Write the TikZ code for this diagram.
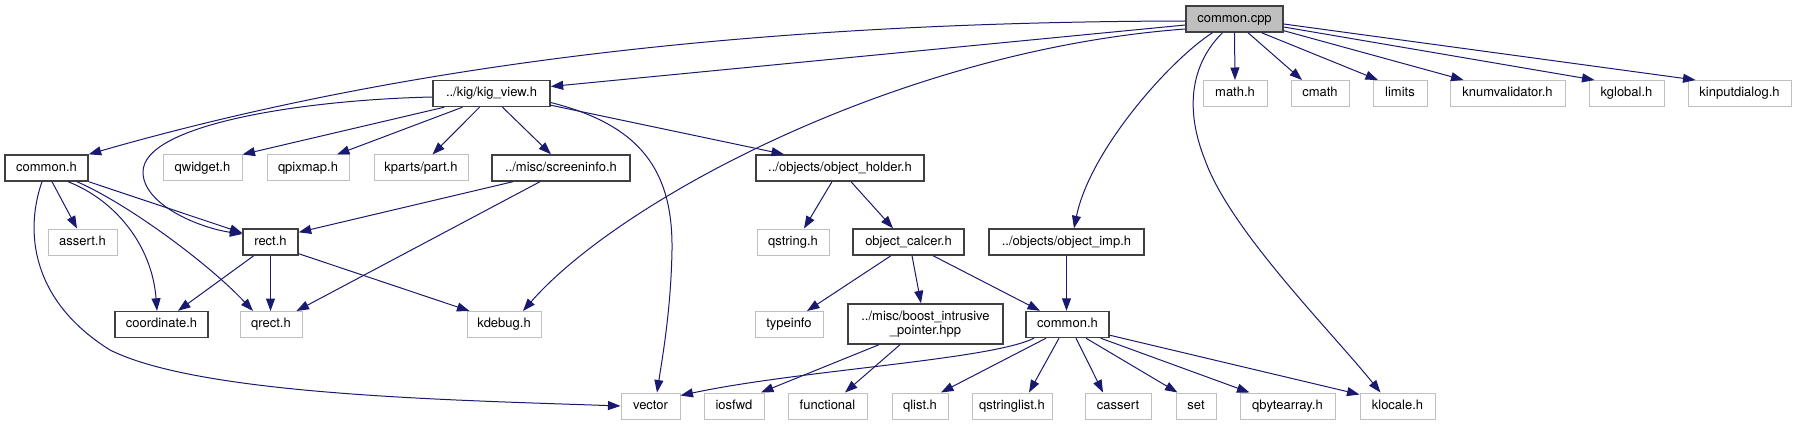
\documentclass[tikz,border=0pt]{standalone}
\usepackage{fontspec}
\setmainfont{TeX Gyre Heros}
\usetikzlibrary{arrows.meta,calc}
\definecolor{edgec}{HTML}{191970}
\definecolor{grayb}{HTML}{BFBFBF}
\definecolor{darkb}{HTML}{404040}
\tikzset{
 ndbase/.style={draw, line width=1pt, fill=white, inner sep=0pt, minimum height=26, font=\fontsize{13}{14}\selectfont},
 nd/.style={ndbase, text height=9.5, text depth=3},
 blk/.style={nd, draw=darkb, line width=1.4pt},
 gry/.style={nd, draw=grayb},
 e/.style={draw=edgec, line width=1pt, -{Triangle[length=12.5pt,width=9pt]}},
}
\begin{document}
\begin{tikzpicture}[x=1pt,y=-1pt]
\useasboundingbox (0,0) rectangle (1797,425);
% row 1
\node[blk, fill=grayb, minimum width=97] (cpp) at (1234.5,19) {common.cpp};
% row 2
\node[blk, minimum width=117] (kigview) at (491.5,93.5) {../kig/kig\_view.h};
\node[gry, minimum width=64] (math) at (1235,93.5) {math.h};
\node[gry, minimum width=58] (cmath) at (1320,93.5) {cmath};
\node[gry, minimum width=54] (limits) at (1400,93.5) {limits};
\node[gry, minimum width=115] (knum) at (1507.5,93.5) {knumvalidator.h};
\node[gry, minimum width=75] (kglobal) at (1626.5,93.5) {kglobal.h};
\node[gry, minimum width=103] (kinput) at (1739.5,93.5) {kinputdialog.h};
% row 3
\node[blk, minimum width=83] (commonA) at (46.5,168) {common.h};
\node[gry, minimum width=79] (qwidget) at (202.5,168) {qwidget.h};
\node[gry, minimum width=82] (qpixmap) at (308,168) {qpixmap.h};
\node[gry, minimum width=94] (kparts) at (421,168) {kparts/part.h};
\node[blk, minimum width=138] (screeninfo) at (561,168) {../misc/screeninfo.h};
\node[blk, minimum width=168] (objholder) at (840,168) {../objects/object\_holder.h};
% row 4
\node[gry, minimum width=69] (assert) at (82.5,242) {assert.h};
\node[blk, minimum width=55] (rect) at (270.5,242) {rect.h};
\node[gry, minimum width=72] (qstring) at (793,242) {qstring.h};
\node[blk, minimum width=111] (objcalcer) at (908.5,242) {object\_calcer.h};
\node[blk, minimum width=155] (objimp) at (1066.5,242) {../objects/object\_imp.h};
% row 5
\node[blk, minimum width=93] (coordinate) at (161.5,324.5) {coordinate.h};
\node[gry, minimum width=62] (qrect) at (271,324.5) {qrect.h};
\node[gry, minimum width=74] (kdebug) at (504,324.5) {kdebug.h};
\node[gry, minimum width=68] (typeinfo) at (789,324.5) {typeinfo};
\node[ndbase, draw=darkb, line width=1.4pt, minimum width=155, minimum height=40, align=center] (boost) at (925.5,324) {../misc/boost\_intrusive\\\_pointer.hpp};
\node[blk, minimum width=83] (commonB) at (1067.5,324.5) {common.h};
% row 6
\node[gry, minimum width=59] (vector) at (650.5,406) {vector};
\node[gry, minimum width=60] (iosfwd) at (734,406) {iosfwd};
\node[gry, minimum width=79] (functional) at (827.5,406) {functional};
\node[gry, minimum width=56] (qlist) at (920,406) {qlist.h};
\node[gry, minimum width=80] (qstringlist) at (1012,406) {qstringlist.h};
\node[gry, minimum width=66] (cassert) at (1118,406) {cassert};
\node[gry, minimum width=40] (set) at (1196,406) {set};
\node[gry, minimum width=95] (qbytearray) at (1287.5,406) {qbytearray.h};
\node[gry, minimum width=75] (klocale) at (1397.5,406) {klocale.h};

% edges from common.cpp
\draw[e] ($(cpp.west)+(0,2)$) .. controls (750,22) and (400,65) .. (commonA.north east);
\draw[e] ($(cpp.west)+(0,6)$) -- ($(kigview.east)+(0,-7)$);
\draw[e] ($(cpp.west)+(0,10)$) .. controls (900,50) and (620,200) .. ($(kdebug.north)+(19,0)$);
\draw[e] ($(cpp.south)+(-22,0)$) .. controls (1170,60) and (1090,150) .. ($(objimp.north)+(7.5,0)$);
\draw[e] ($(cpp.south)+(-12,0)$) .. controls (1190,65) and (1185,110) .. (1205,160) .. controls (1230,230) and (1330,330) .. ($(klocale.north)+(-17,0)$);
\draw[e] (cpp.south) -- (math.north);
\draw[e] ($(cpp.south)+(13.5,0)$) -- ($(cmath.north)+(-18,0)$);
\draw[e] ($(cpp.south)+(27,0)$) -- ($(limits.north)+(-22,0)$);
\draw[e] ($(cpp.south east)+(0,-2)$) -- ($(knum.north)+(-44,0)$);
\draw[e] ($(cpp.east)+(0,8)$) -- ($(kglobal.north)+(-32,0)$);
\draw[e] ($(cpp.east)+(0,5)$) -- ($(kinput.north)+(-44,0)$);
% edges from kig_view.h
\draw[e] ($(kigview.west)+(0,3.5)$) .. controls (300,100) and (143,125) .. (143,172) .. controls (143,205) and (200,228) .. ($(rect.west)+(0,-8)$);
\draw[e] ($(kigview.south west)+(12,0)$) -- (qwidget.north east);
\draw[e] ($(kigview.south)+(-29,0)$) -- ($(qpixmap.north)+(29,0)$);
\draw[e] ($(kigview.south)+(-12,0)$) -- ($(kparts.north)+(11.5,0)$);
\draw[e] ($(kigview.south)+(11,0)$) -- ($(screeninfo.north)+(-10,0)$);
\draw[e] ($(kigview.south east)+(0,-2)$) -- ($(objholder.north)+(-56,0)$);
\draw[e] ($(kigview.east)+(0,9)$) .. controls (640,125) and (673,170) .. (672,250) .. controls (671,310) and (662,360) .. ($(vector.north)+(6.5,0)$);
% edges from common.h (left)
\draw[e] ($(commonA.south)+(5.5,0)$) -- ($(assert.north)+(-5.5,0)$);
\draw[e] ($(commonA.south)+(21.5,0)$) .. controls (115,200) and (152,245) .. ($(coordinate.north)+(-4.5,0)$);
\draw[e] ($(commonA.south)+(30.5,0)$) .. controls (130,205) and (210,265) .. ($(qrect.north)+(-18,0)$);
\draw[e] (commonA.south east) -- ($(rect.west)+(0,-9)$);
\draw[e] ($(commonA.south)+(-4.5,0)$) .. controls (25,230) and (30,300) .. (110,350) .. controls (200,395) and (450,400) .. (vector.west);
% edges from screeninfo.h
\draw[e] ($(screeninfo.south)+(-48,0)$) -- ($(rect.north east)+(0,4)$);
\draw[e] ($(screeninfo.south)+(-21,0)$) -- ($(qrect.north east)+(-6,0)$);
% edges from rect.h
\draw[e] ($(rect.south west)+(11.5,0)$) -- ($(coordinate.north)+(16.5,0)$);
\draw[e] (rect.south) -- (rect.south |- qrect.north);
\draw[e] ($(rect.south east)+(0,-2)$) -- ($(kdebug.north west)+(3,0)$);
% edges from object_holder.h
\draw[e] ($(objholder.south)+(-8,0)$) -- ($(qstring.north)+(11,0)$);
\draw[e] ($(objholder.south)+(11,0)$) -- ($(objcalcer.north)+(-15.5,0)$);
% edges from object_calcer.h
\draw[e] ($(objcalcer.south)+(-17.5,0)$) -- ($(typeinfo.north)+(18,0)$);
\draw[e] ($(objcalcer.south)+(3.5,0)$) -- ($(boost.north)+(-4.5,0)$);
\draw[e] ($(objcalcer.south)+(24.5,0)$) -- ($(commonB.north)+(-27.5,0)$);
% object_imp.h
\draw[e] (objimp.south) -- (objimp.south |- commonB.north);
% boost
\draw[e] ($(boost.south)+(-46.5,0)$) -- ($(iosfwd.north)+(27,0)$);
\draw[e] ($(boost.south)+(-25.5,0)$) -- ($(functional.north)+(17.5,0)$);
% edges from common.h (right)
\draw[e] ($(commonB.south)+(-33.5,0)$) .. controls (990,360) and (800,370) .. ($(vector.north east)+(0,3)$);
\draw[e] ($(commonB.south)+(-21.5,0)$) -- ($(qlist.north)+(21,0)$);
\draw[e] ($(commonB.south)+(-8.5,0)$) -- ($(qstringlist.north)+(17,0)$);
\draw[e] ($(commonB.south)+(8.5,0)$) -- ($(cassert.north)+(-15,0)$);
\draw[e] ($(commonB.south)+(18.5,0)$) -- ($(set.north west)+(2,0)$);
\draw[e] ($(commonB.south east)+(-9,0)$) -- ($(qbytearray.north)+(-38,0)$);
\draw[e] ($(commonB.south east)+(0,-3)$) -- ($(klocale.north west)+(0,2)$);
\end{tikzpicture}
\end{document}
